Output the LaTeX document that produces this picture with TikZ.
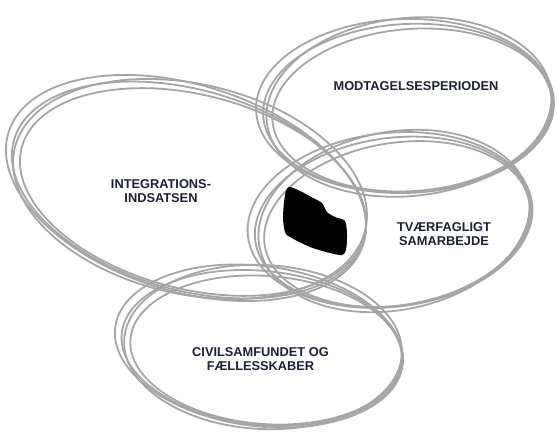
\documentclass[tikz,border=0pt]{standalone}
\usepackage{fontspec}
\setmainfont{Liberation Sans}
\usetikzlibrary{calc}
\definecolor{ringgray}{RGB}{165,165,165}
\definecolor{labelnavy}{RGB}{27,32,52}

\begin{document}
\begin{tikzpicture}[x=1pt, y=1pt,
  ring/.style={draw=ringgray, line width=1.8pt},
  lbl/.style={font=\fontsize{12.8}{14}\selectfont\bfseries, text=labelnavy, align=center, inner sep=0pt}
]
\useasboundingbox (0,0) rectangle (557,432);
% sketchy rings: centre x/y, radii, tilt
\foreach \cx/\cy/\ra/\rb/\rt in {408/324/145/84/3, 189/242/182/100/-16, 393/210/139/84/8, 262/84/141/77/-6}{
  \foreach \dx/\dy/\da/\db/\dt in {0/0/0/0/0, 4/-2/-5/-3/1.5, -3/2/4/3/-1.5, 1/1/-2/5/3}{
    \draw[ring, shift={(\cx+\dx,\cy+\dy)}, rotate=\rt+\dt] (0,0) ellipse [x radius=\ra+\da, y radius=\rb+\db];
  }
}
% the common core
\fill[black] plot[smooth cycle, tension=0.5] coordinates {(289,245) (300,241) (313,234) (322,229) (327,220) (335,215) (345,211) (347,197) (346,182) (342,177) (330,179) (310,185) (290,195) (285,200) (283,215) (285,237)};
\node[lbl] (modt) at (416,346) {MODTAGELSESPERIODEN};
\node[lbl] (integ) at (161,241) {INTEGRATIONS-\\INDSATSEN};
\node[lbl] (tvaer) at (444,197.5) {TVÆRFAGLIGT\\SAMARBEJDE};
\node[lbl] (civil) at (260.5,72.5) {CIVILSAMFUNDET OG\\FÆLLESSKABER};
\end{tikzpicture}
\end{document}
